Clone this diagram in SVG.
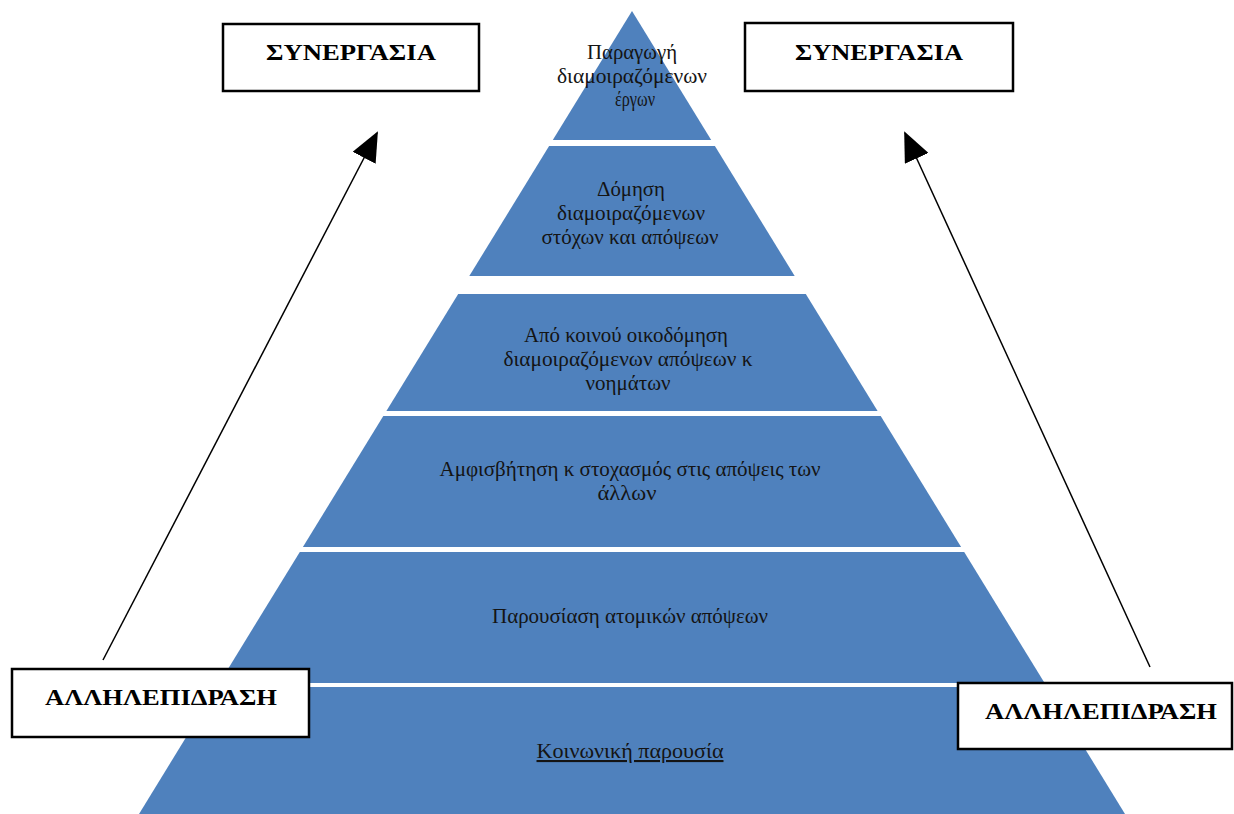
<svg xmlns="http://www.w3.org/2000/svg" width="1234" height="814" viewBox="0 0 1234 814">
<style>
.layer{fill:#4F81BD;}
.lt{font-family:"Liberation Serif","Times New Roman",serif;font-size:21px;fill:#141414;text-anchor:middle;}
.box{fill:#fff;stroke:#000;stroke-width:2.5;}
.bt{font-family:"Liberation Serif","Times New Roman",serif;font-size:23px;font-weight:bold;fill:#000;text-anchor:middle;}
.conn{stroke:#000;stroke-width:1.5;fill:none;}
</style>
<defs>
<marker id="ah" markerWidth="30" markerHeight="26" refX="28" refY="13" orient="auto" markerUnits="userSpaceOnUse">
<path d="M0,0 L30,13 L0,26 Z" fill="#000"/>
</marker>
</defs>
<rect width="1234" height="814" fill="#fff"/>
<g id="layer1">
<polygon class="layer" points="632,11 711.2,140 552.8,140"/>
<text class="lt" x="632" y="59" textLength="90" lengthAdjust="spacingAndGlyphs">Παραγωγή</text>
<text class="lt" x="632" y="83" textLength="150" lengthAdjust="spacingAndGlyphs">διαμοιραζόμενων</text>
<text class="lt" x="635" y="106" textLength="40" lengthAdjust="spacingAndGlyphs">έργων</text>
</g>
<g id="layer2">
<polygon class="layer" points="549.1,146 714.9,146 794.7,276 469.3,276"/>
<text class="lt" x="631" y="196" textLength="68" lengthAdjust="spacingAndGlyphs">Δόμηση</text>
<text class="lt" x="631" y="220" textLength="148" lengthAdjust="spacingAndGlyphs">διαμοιραζόμενων</text>
<text class="lt" x="630" y="244" textLength="177" lengthAdjust="spacingAndGlyphs">στόχων και απόψεων</text>
</g>
<g id="layer3">
<polygon class="layer" points="458.2,294 805.8,294 877.6,411 386.4,411"/>
<text class="lt" x="626" y="342" textLength="204" lengthAdjust="spacingAndGlyphs">Από κοινού οικοδόμηση</text>
<text class="lt" x="628" y="366" textLength="249" lengthAdjust="spacingAndGlyphs">διαμοιραζόμενων απόψεων κ</text>
<text class="lt" x="628" y="390" textLength="85" lengthAdjust="spacingAndGlyphs">νοημάτων</text>
</g>
<g id="layer4">
<polygon class="layer" points="383.3,416 880.7,416 961.1,547 302.9,547"/>
<text class="lt" x="630" y="476" textLength="381" lengthAdjust="spacingAndGlyphs">Αμφισβήτηση κ στοχασμός στις απόψεις των</text>
<text class="lt" x="627" y="500" textLength="59" lengthAdjust="spacingAndGlyphs">άλλων</text>
</g>
<g id="layer5">
<polygon class="layer" points="299.8,552 964.2,552 1044.6,683 219.4,683"/>
<text class="lt" x="630" y="623" textLength="276" lengthAdjust="spacingAndGlyphs">Παρουσίαση ατομικών απόψεων</text>
</g>
<g id="layer6">
<polygon class="layer" points="216.9,687 1047.1,687 1125.6,815 138.4,815"/>
<text class="lt" x="630" y="758" textLength="187" lengthAdjust="spacingAndGlyphs" text-decoration="underline">Κοινωνική παρουσία</text>
</g>
<g id="connectors">
<line class="conn" x1="103" y1="660" x2="377" y2="133" marker-end="url(#ah)"/>
<line class="conn" x1="1150" y1="667" x2="905" y2="133" marker-end="url(#ah)"/>
</g>
<g id="synergasia-left">
<rect class="box" x="223" y="24" width="256" height="67"/>
<text class="bt" x="351" y="60" textLength="170" lengthAdjust="spacingAndGlyphs">ΣΥΝΕΡΓΑΣΙΑ</text>
</g>
<g id="synergasia-right">
<rect class="box" x="745" y="23" width="268" height="68"/>
<text class="bt" x="879" y="60" textLength="168" lengthAdjust="spacingAndGlyphs">ΣΥΝΕΡΓΑΣΙΑ</text>
</g>
<g id="allilepidrasi-left">
<rect class="box" x="12" y="669" width="297" height="68"/>
<text class="bt" x="161" y="705" textLength="232" lengthAdjust="spacingAndGlyphs">ΑΛΛΗΛΕΠΙΔΡΑΣΗ</text>
</g>
<g id="allilepidrasi-right">
<rect class="box" x="958" y="683" width="274" height="66"/>
<text class="bt" x="1101" y="719" textLength="232" lengthAdjust="spacingAndGlyphs">ΑΛΛΗΛΕΠΙΔΡΑΣΗ</text>
</g>
</svg>
